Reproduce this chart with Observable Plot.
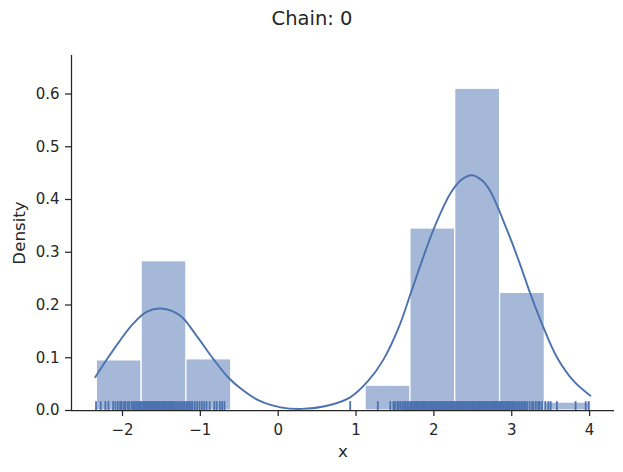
<!DOCTYPE html>
<html>
<head>
<meta charset="utf-8">
<script src="https://cdn.jsdelivr.net/npm/d3@7"></script>
<script src="https://cdn.jsdelivr.net/npm/@observablehq/plot@0.6"></script>
<style>
  html, body { margin: 0; padding: 0; background: #fff; }
</style>
</head>
<body>
<div id="chart"></div>
<script>
// Histogram bin edges (x) and densities
const binEdges = [-2.33, -1.754, -1.179, -0.603, -0.028, 0.548, 1.123, 1.699, 2.274, 2.850, 3.425, 4.0];
const binDensity = [0.095, 0.283, 0.097, 0, 0, 0, 0.047, 0.345, 0.610, 0.223, 0.015];

// KDE curve points
const kdeX = [-2.35, -2.2, -2.03, -1.86, -1.69, -1.48, -1.26, -1.05, -0.83, -0.65, -0.485, -0.25, 0.03, 0.3, 0.6, 0.925, 1.15, 1.35, 1.55, 1.70, 1.85, 2.0, 2.21, 2.35, 2.49, 2.62, 2.72, 2.94, 3.1, 3.24, 3.4, 3.58, 3.8, 4.01];
const kdeY = [0.063, 0.097, 0.133, 0.165, 0.187, 0.193, 0.180, 0.142, 0.097, 0.064, 0.042, 0.019, 0.006, 0.003, 0.008, 0.025, 0.055, 0.096, 0.158, 0.221, 0.285, 0.345, 0.411, 0.437, 0.446, 0.436, 0.417, 0.342, 0.280, 0.221, 0.160, 0.101, 0.055, 0.028];

const rugValues = [
  -2.34, -2.28, -2.22, -2.18, -2.12, -2.09, -2.06, -2.03, -2.01, -1.98, -1.96, -1.93, -1.91, -1.88, -1.86,
  -1.84, -1.82, -1.80, -1.78, -1.765, -1.75, -1.73, -1.715, -1.70, -1.685, -1.67, -1.655, -1.64, -1.625,
  -1.61, -1.595, -1.58, -1.565, -1.55, -1.535, -1.52, -1.505, -1.49, -1.475, -1.46, -1.445, -1.43, -1.415,
  -1.40, -1.385, -1.37, -1.355, -1.34, -1.32, -1.30, -1.28, -1.26, -1.24, -1.22, -1.20, -1.18, -1.16,
  -1.14, -1.12, -1.10, -1.07, -1.04, -1.01, -0.98, -0.95, -0.92, -0.88, -0.82, -0.79, -0.75, -0.72, -0.69,
  0.925, 1.28, 1.44, 1.48, 1.50, 1.53, 1.55, 1.575, 1.60, 1.62, 1.64, 1.66, 1.68, 1.70, 1.715, 1.73, 1.745,
  1.76, 1.775, 1.79, 1.805, 1.82, 1.835, 1.85, 1.865, 1.88, 1.895, 1.91, 1.925, 1.94, 1.955, 1.97, 1.985,
  2.00, 2.015, 2.03, 2.045, 2.06, 2.075, 2.09, 2.105, 2.12, 2.135, 2.15, 2.165, 2.18, 2.195, 2.21, 2.225,
  2.24, 2.255, 2.27, 2.285, 2.30, 2.315, 2.33, 2.345, 2.36, 2.375, 2.39, 2.405, 2.42, 2.435, 2.45, 2.465,
  2.48, 2.495, 2.51, 2.525, 2.54, 2.555, 2.57, 2.585, 2.60, 2.615, 2.63, 2.645, 2.66, 2.675, 2.69, 2.705,
  2.72, 2.735, 2.75, 2.765, 2.78, 2.795, 2.81, 2.825, 2.84, 2.855, 2.87, 2.885, 2.90, 2.915, 2.93, 2.945,
  2.96, 2.975, 2.99, 3.005, 3.02, 3.04, 3.06, 3.08, 3.10, 3.12, 3.14, 3.16, 3.18, 3.20, 3.23, 3.26, 3.28,
  3.31, 3.34, 3.36, 3.39, 3.43, 3.47, 3.50, 3.58, 3.82, 3.95, 3.99
];

const xTicks = [-2, -1, 0, 1, 2, 3, 4];
const yTicks = [0.0, 0.1, 0.2, 0.3, 0.4, 0.5, 0.6];

const titleText = "Chain: 0";
const xLabel = "x";
const yLabel = "Density";

const xDomain = [-2.655, 4.32];
const yDomain = [0, 0.673];

const blue = "#4C72B0";
const ink = "#262626";

const bins = binDensity.map((d, i) => ({x1: binEdges[i], x2: binEdges[i + 1], y: d})).filter(b => b.y > 0);
const kde = kdeX.map((x, i) => ({x, y: kdeY[i]}));
const fmt = d => d < 0 ? "\u2212" + Math.abs(d) : String(d);

const chart = Plot.plot({
  width: 623,
  height: 472,
  marginLeft: 71,
  marginRight: 9,
  marginTop: 55,
  marginBottom: 62,
  style: {fontFamily: "DejaVu Sans", fontSize: "15px", color: ink, background: "#fff"},
  x: {domain: xDomain},
  y: {domain: yDomain},
  marks: [
    Plot.rectY(bins, {x1: "x1", x2: "x2", y: "y", fill: blue, fillOpacity: 0.5, stroke: "white", strokeWidth: 1.2}),
    Plot.ruleX(rugValues, {x: d => d, y1: 0, y2: 0.0168, stroke: blue, strokeWidth: 1.8}),
    Plot.line(kde, {x: "x", y: "y", stroke: blue, strokeWidth: 1.9, curve: "catmull-rom"}),
    Plot.ruleY([0], {stroke: ink, strokeWidth: 1.25}),
    Plot.ruleX([xDomain[0]], {stroke: ink, strokeWidth: 1.25}),
    Plot.axisX({ticks: xTicks, tickFormat: fmt, tickSize: 6, tickPadding: 8, strokeWidth: 1.25, color: ink, fontSize: 15, label: null}),
    Plot.axisY({ticks: yTicks, tickFormat: d => d.toFixed(1), tickSize: 6, tickPadding: 6, strokeWidth: 1.25, color: ink, fontSize: 15, label: null}),
    Plot.text([xLabel], {frameAnchor: "bottom", lineAnchor: "middle", textAnchor: "middle", dy: 40.7, fontSize: 16.7, fill: ink}),
    Plot.text([yLabel], {frameAnchor: "left", lineAnchor: "middle", textAnchor: "middle", rotate: -90, dx: -52, fontSize: 16.7, fill: ink}),
    Plot.text([titleText], {frameAnchor: "top", lineAnchor: "middle", textAnchor: "middle", dx: -31, dy: -37, fontSize: 19.5, fill: ink})
  ]
});
document.getElementById("chart").appendChild(chart);
</script>
</body>
</html>
